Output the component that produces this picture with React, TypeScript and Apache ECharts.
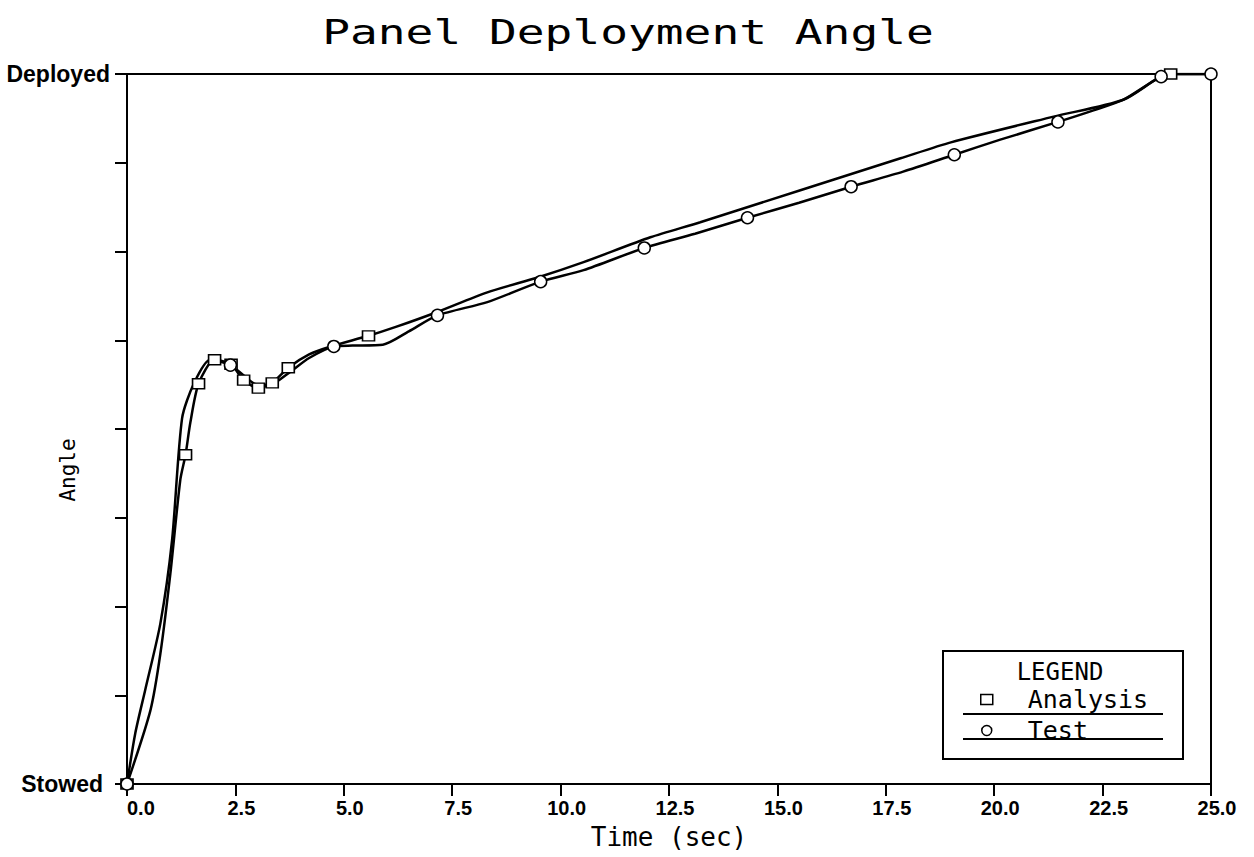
import React, { useEffect, useRef } from "react";
import * as echarts from "echarts";

const xTickLabelsStep = 2.5;
const yLabelStowed = "Stowed";
const yLabelDeployed = "Deployed";

const analysisTime = [0, 0.54, 0.77, 1.0, 1.23, 1.35, 1.46, 1.65, 2.02, 2.4, 2.69, 3.03, 3.35, 3.72, 4.2, 4.7, 5.57, 6.2, 7.11, 8.31, 9.49, 10.53, 12.07, 13.22, 15.53, 17.84, 19.0, 21.37, 22.98, 23.77, 24.07, 25];
const analysisAngle = [0, 0.83, 1.47, 2.37, 3.43, 3.71, 4.07, 4.51, 4.78, 4.73, 4.55, 4.46, 4.52, 4.69, 4.84, 4.93, 5.05, 5.15, 5.31, 5.54, 5.71, 5.88, 6.16, 6.33, 6.69, 7.05, 7.23, 7.52, 7.71, 7.95, 8.0, 8.0];
const analysisMarkerIdx = [0, 5, 7, 8, 9, 10, 11, 12, 13, 16, 30];

const testTime = [0, 0.19, 0.42, 0.77, 1.04, 1.27, 1.54, 1.92, 2.385, 2.7, 3.0, 3.3, 3.7, 4.2, 4.77, 5.2, 5.9, 6.5, 7.16, 8.31, 9.54, 10.53, 11.93, 13.1, 14.31, 15.5, 16.7, 17.9, 19.08, 20.14, 21.47, 22.29, 22.98, 23.85, 24.2, 25];
const testAngle = [0, 0.57, 1.06, 1.81, 2.75, 4.12, 4.51, 4.78, 4.72, 4.6, 4.5, 4.5, 4.62, 4.8, 4.93, 4.94, 4.95, 5.1, 5.28, 5.43, 5.66, 5.79, 6.04, 6.2, 6.38, 6.55, 6.73, 6.9, 7.09, 7.26, 7.46, 7.59, 7.71, 7.97, 8.0, 8.0];
const testMarkerIdx = [0, 8, 14, 18, 20, 22, 24, 26, 28, 30, 33, 35];

const PLOT = '"DejaVu Sans Mono", monospace';
const HELV = '"Liberation Sans", Arial, sans-serif';

export default function App() {
  const ref = useRef<HTMLDivElement>(null);
  useEffect(() => {
    if (!ref.current) return;
    const chart = echarts.init(ref.current, undefined, { renderer: "svg" });
    const build = (t: number[], a: number[], idx: number[], sym: string, size: any) =>
      t.map((x, i) => ({
        value: [x, a[i]],
        symbol: idx.includes(i) ? sym : "none",
        symbolSize: size,
      }));
    const tickFont = { fontFamily: HELV, fontWeight: "bold", fontSize: 20, color: "#000" };
    chart.setOption({
      animation: false,
      backgroundColor: "#fff",
      grid: {
        left: 127,
        right: 43,
        top: 74,
        bottom: 73,
        show: true,
        borderColor: "#000",
        borderWidth: 2,
        containLabel: false,
        outerBoundsMode: "none",
      },
      xAxis: {
        type: "value",
        min: 0,
        max: 25,
        interval: xTickLabelsStep,
        name: "Time (sec)",
        nameLocation: "middle",
        nameGap: 40,
        nameMoveOverlap: false,
        nameTextStyle: { fontFamily: PLOT, fontSize: 26, color: "#000" },
        axisLine: { lineStyle: { color: "#000", width: 2 } },
        axisTick: { length: 12, lineStyle: { color: "#000", width: 2 } },
        splitLine: { show: false },
        axisLabel: {
          formatter: (v: number) => (v === 0 ? "{z|" + v.toFixed(1) + "}" : "{p|" + v.toFixed(1) + "}"),
          color: "#000",
          margin: 14,
          alignMinLabel: "left",
          rich: {
            z: { ...tickFont },
            p: { ...tickFont, padding: [0, 0, 0, 12] },
          },
        },
      },
      yAxis: {
        type: "value",
        min: 0,
        max: 8,
        interval: 1,
        name: "Angle",
        nameLocation: "middle",
        nameRotate: 90,
        nameGap: 49,
        nameMoveOverlap: false,
        nameTextStyle: { fontFamily: PLOT, fontSize: 21, color: "#000", padding: [0, 82, 0, 0] },
        axisLine: { lineStyle: { color: "#000", width: 2 } },
        axisTick: { length: 12, lineStyle: { color: "#000", width: 2 } },
        splitLine: { show: false },
        axisLabel: {
          formatter: (v: number) => (v === 0 ? "{s|" + yLabelStowed + "}" : v === 8 ? "{d|" + yLabelDeployed + "}" : ""),
          color: "#000",
          margin: 17,
          rich: {
            s: { fontFamily: HELV, fontWeight: "bold", fontSize: 23, color: "#000", padding: [0, 7, 0, 0] },
            d: { fontFamily: HELV, fontWeight: "bold", fontSize: 23, color: "#000" },
          },
        },
      },
      legend: {
        orient: "vertical",
        left: 980,
        top: 687,
        padding: 0,
        z: 20,
        itemWidth: 12,
        itemHeight: 10,
        itemGap: 6,
        selectedMode: false,
        data: [
          { name: "Analysis", icon: "rect" },
          { name: "Test", icon: "circle" },
        ],
        itemStyle: { color: "#fff", borderColor: "#000", borderWidth: 1.5 },
        textStyle: { fontFamily: PLOT, fontSize: 25, lineHeight: 22, color: "#000", padding: [0, 0, 0, 30] },
      },
      graphic: [
        {
          type: "text",
          x: 628,
          y: 32,
          scaleX: 1.4,
          style: { text: "Panel Deployment Angle", font: '33px "DejaVu Sans Mono"', fill: "#000", textAlign: "center", textVerticalAlign: "middle" },
        },
        { type: "rect", shape: { x: 943, y: 651, width: 240, height: 108 }, style: { fill: "#fff", stroke: "#000", lineWidth: 2 }, z: 1 },
        {
          type: "text",
          x: 1060,
          y: 672,
          style: { text: "LEGEND", font: '24px "DejaVu Sans Mono"', lineHeight: 18, fill: "#000", textAlign: "center", textVerticalAlign: "middle" },
          z: 2,
        },
        { type: "line", shape: { x1: 963, y1: 714, x2: 1163, y2: 714 }, style: { stroke: "#000", lineWidth: 2 }, z: 2 },
        { type: "line", shape: { x1: 963, y1: 739, x2: 1163, y2: 739 }, style: { stroke: "#000", lineWidth: 2 }, z: 2 },
      ],
      series: [
        {
          name: "Analysis",
          type: "line",
          smooth: 0.25,
          showSymbol: true,
          showAllSymbol: true,
          data: build(analysisTime, analysisAngle, analysisMarkerIdx, "rect", [12, 10]),
          lineStyle: { color: "#000", width: 2.5 },
          itemStyle: { color: "#fff", borderColor: "#000", borderWidth: 1.5 },
          z: 3,
        },
        {
          name: "Test",
          type: "line",
          smooth: 0.25,
          showSymbol: true,
          showAllSymbol: true,
          data: build(testTime, testAngle, testMarkerIdx, "circle", 12),
          lineStyle: { color: "#000", width: 2.5 },
          itemStyle: { color: "#fff", borderColor: "#000", borderWidth: 1.5 },
          z: 3,
        },
      ],
    });
    return () => chart.dispose();
  }, []);
  return <div ref={ref} style={{ position: "absolute", left: 0, top: 0, width: 1254, height: 857 }} />;
}
